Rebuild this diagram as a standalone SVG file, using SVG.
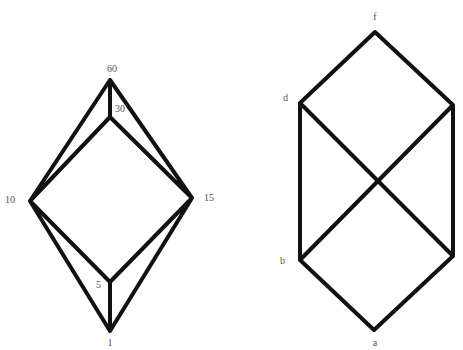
<svg xmlns="http://www.w3.org/2000/svg" width="463" height="350" viewBox="0 0 463 350">
<style>
.e{stroke:#111;stroke-width:4;stroke-linecap:round;stroke-linejoin:round;fill:none}
.t{font-family:"Liberation Serif",serif;font-size:10px;fill:#555}
</style>
<rect width="463" height="350" fill="#fff"/>
<g id="connectors">
<path class="e" d="M110,80L30,201M110,80L192,198M110,80V117M110,117L30,201M110,117L192,198M30,201L110,282M192,198L110,282M30,201L110,331M192,198L110,331M110,282V331"/>
<path class="e" d="M375,32L300,103M375,32L453,105M300,103V260M453,105V256M300,103L453,256M453,105L300,260M300,260L374,330M453,256L374,330"/>
</g>
<g id="n60"><text class="t" x="112" y="72" text-anchor="middle">60</text></g>
<g id="n30"><text class="t" x="115" y="112">30</text></g>
<g id="n10"><text class="t" x="5" y="203">10</text></g>
<g id="n15"><text class="t" x="204" y="201">15</text></g>
<g id="n5"><text class="t" x="96" y="288">5</text></g>
<g id="n1"><text class="t" x="110" y="346" font-size="8" text-anchor="middle">1</text></g>
<g id="nf"><text class="t" x="375" y="20" text-anchor="middle">f</text></g>
<g id="nd"><text class="t" x="283" y="101">d</text></g>
<g id="nb"><text class="t" x="280" y="264">b</text></g>
<g id="na"><text class="t" x="375" y="346" text-anchor="middle">a</text></g>
</svg>
